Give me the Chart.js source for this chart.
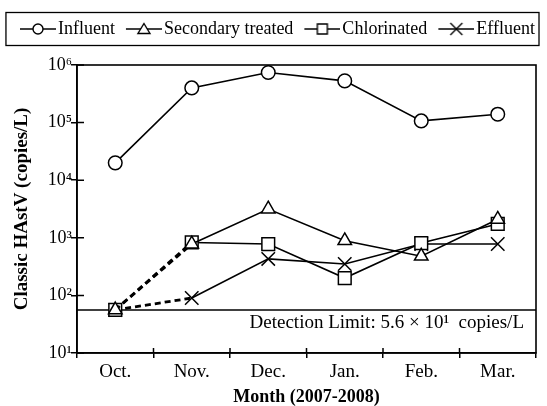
<!DOCTYPE html>
<html>
<head>
<meta charset="utf-8">
<script src="https://cdn.jsdelivr.net/npm/chart.js@4/dist/chart.umd.min.js"></script>
<style>
    html, body { margin: 0; padding: 0; background: #fff; }
</style>
</head>
<body>
<canvas id="chart" width="547" height="406"></canvas>
<script>
'use strict';

// данные
const months = ['Oct.', 'Nov.', 'Dec.', 'Jan.', 'Feb.', 'Mar.'];
const influent = [2.0e4, 4.0e5, 7.4e5, 5.3e5, 1.07e5, 1.4e5];
const secondaryTreated = [56, 780, 3160, 890, 480, 2100];
const chlorinated = [56, 830, 780, 200, 810, 1740];
const effluent = [56, 90, 430, 350, 780, 780];
const detectionLimit = 56;
const yTicks = [10, 100, 1000, 10000, 100000, 1000000];
const yTickLabels = ['10¹', '10²', '10³', '10⁴', '10⁵', '10⁶'];

const FONT = '"Liberation Serif", "Times New Roman", serif';

// значок легенды: линия с маркером посередине (сдвинут вправо к тексту)
function legendSymbol(style) {
    const c = document.createElement('canvas');
    c.width = 42;
    c.height = 16;
    const g = c.getContext('2d');
    const x0 = 6, x1 = 42, cx = 24, cy = 8;
    g.strokeStyle = '#000';
    g.fillStyle = '#fff';
    g.lineWidth = 1.4;
    g.beginPath();
    g.moveTo(x0, cy);
    g.lineTo(x1, cy);
    g.stroke();
    g.beginPath();
    if (style === 'circle') {
        g.arc(cx, cy, 5, 0, Math.PI * 2);
        g.fill();
        g.stroke();
    } else if (style === 'triangle') {
        g.moveTo(cx, cy - 5.5);
        g.lineTo(cx + 6, cy + 4.5);
        g.lineTo(cx - 6, cy + 4.5);
        g.closePath();
        g.fill();
        g.stroke();
    } else if (style === 'rect') {
        g.rect(cx - 5, cy - 5, 10, 10);
        g.fill();
        g.stroke();
    } else {
        g.moveTo(cx - 6, cy - 6);
        g.lineTo(cx + 6, cy + 6);
        g.moveTo(cx + 6, cy - 6);
        g.lineTo(cx - 6, cy + 6);
        g.stroke();
    }
    return c;
}

// пунктир только на отрезке Oct.–Nov.
const dashFirst = {
    borderDash: (ctx) => (ctx.p0DataIndex === 0 ? [6, 4] : undefined),
    borderWidth: (ctx) => (ctx.p0DataIndex === 0 ? 2.8 : 1.6),
};

function series(label, data, style, radius, dashed) {
    return {
        label: label,
        data: data,
        xAxisID: 'x',
        yAxisID: 'y',
        borderColor: '#000',
        borderWidth: 1.6,
        pointStyle: style,
        pointRadius: radius,
        pointBorderWidth: 1.5,
        pointBackgroundColor: '#fff',
        pointBorderColor: '#000',
        tension: 0,
        segment: dashed ? dashFirst : undefined,
        legendStyle: style,
    };
}

// рамка графика, внутренние засечки, предел обнаружения, рамка легенды
const decorPlugin = {
    id: 'decor',
    beforeDatasetsDraw(chart) {
        const { ctx, chartArea: a, scales } = chart;
        const y = scales.y.getPixelForValue(detectionLimit);
        ctx.save();
        ctx.strokeStyle = '#000';
        ctx.lineWidth = 1.5;
        ctx.beginPath();
        ctx.moveTo(a.left, y);
        ctx.lineTo(a.right, y);
        ctx.stroke();
        ctx.fillStyle = '#000';
        ctx.font = '19px ' + FONT;
        ctx.textAlign = 'right';
        ctx.textBaseline = 'middle';
        ctx.fillText('Detection Limit: 5.6 × 10¹  copies/L', a.right - 12, y + 13);
        ctx.restore();
    },
    afterDraw(chart) {
        const { ctx, chartArea: a, scales } = chart;
        ctx.save();
        ctx.strokeStyle = '#000';
        ctx.lineWidth = 1.6;
        ctx.strokeRect(a.left, a.top, a.right - a.left, a.bottom - a.top);
        ctx.lineWidth = 1.5;
        ctx.beginPath();
        // засечки внутрь по оси Y
        for (const v of yTicks) {
            const py = scales.y.getPixelForValue(v);
            ctx.moveTo(a.left, py);
            ctx.lineTo(a.left + 7, py);
        }
        // засечки внутрь по оси X (между месяцами)
        const half = (scales.x.getPixelForValue(1) - scales.x.getPixelForValue(0)) / 2;
        for (let i = 1; i < months.length; i++) {
            const px = scales.x.getPixelForValue(i) - half;
            ctx.moveTo(px, a.bottom);
            ctx.lineTo(px, a.bottom - 5);
        }
        ctx.stroke();
        // рамка легенды
        const boxes = chart.legend.legendHitBoxes;
        if (boxes && boxes.length) {
            let l = Infinity, r = -Infinity, t = Infinity, b = -Infinity;
            for (const h of boxes) {
                l = Math.min(l, h.left);
                r = Math.max(r, h.left + h.width);
                t = Math.min(t, h.top);
                b = Math.max(b, h.top + h.height);
            }
            const cy = (t + b) / 2;
            ctx.lineWidth = 1.3;
            ctx.strokeRect(l - 15, cy - 16.5, r - l + 19, 33);
        }
        ctx.restore();
    },
};

const ctx = document.getElementById('chart').getContext('2d');
const chart = new Chart(ctx, {
    type: 'line',
    data: {
        labels: months,
        datasets: [
            series('Influent', influent, 'circle', 6.8, false),
            series('Secondary treated', secondaryTreated, 'triangle', 7.8, true),
            series('Chlorinated', chlorinated, 'rect', 9, true),
            series('Effluent', effluent, 'crossRot', 9.5, true),
        ],
    },
    options: {
        responsive: false,
        animation: false,
        devicePixelRatio: 1,
        layout: { padding: { top: 8, right: 0, bottom: 0, left: 0 } },
        plugins: {
            tooltip: { enabled: false },
            legend: {
                position: 'top',
                align: 'end',
                labels: {
                    color: '#000',
                    font: { family: FONT, size: 18 },
                    usePointStyle: true,
                    pointStyleWidth: 28,
                    padding: 12,
                    generateLabels: (ch) =>
                        ch.data.datasets.map((ds, i) => ({
                            text: ds.label,
                            pointStyle: legendSymbol(ds.legendStyle),
                            fontColor: '#000',
                            strokeStyle: '#000',
                            fillStyle: '#fff',
                            lineWidth: 0,
                            datasetIndex: i,
                            hidden: false,
                        })),
                },
            },
        },
        scales: {
            x: {
                type: 'category',
                offset: true,
                border: { display: true, color: '#000', width: 1.6 },
                grid: {
                    offset: true,
                    drawOnChartArea: false,
                    drawTicks: true,
                    tickLength: 5,
                    color: '#000',
                    lineWidth: 1.5,
                },
                ticks: {
                    color: '#000',
                    font: { family: FONT, size: 19 },
                    padding: 3,
                    maxRotation: 0,
                },
                title: {
                    display: true,
                    text: 'Month (2007-2008)',
                    color: '#000',
                    font: { family: FONT, size: 18, weight: 'bold' },
                    padding: { top: 0, bottom: -2 },
                },
                afterFit: (s) => { s.height = 53; },
            },
            // пустые оси только для отступов сверху и справа
            xTop: {
                type: 'category',
                position: 'top',
                grid: { display: false, drawTicks: false },
                border: { display: false },
                ticks: { display: false },
                afterFit: (s) => { s.height = 17; },
            },
            yRight: {
                type: 'linear',
                position: 'right',
                grid: { display: false, drawTicks: false },
                border: { display: false },
                ticks: { display: false },
                afterFit: (s) => { s.width = 6; },
            },
            y: {
                type: 'logarithmic',
                min: 10,
                max: 1000000,
                border: { display: true, color: '#000', width: 1.6 },
                grid: {
                    drawOnChartArea: false,
                    drawTicks: true,
                    tickLength: 6,
                    color: '#000',
                    lineWidth: 1.5,
                },
                afterBuildTicks: (s) => {
                    s.ticks = yTicks.map((v) => ({ value: v }));
                },
                ticks: {
                    color: '#000',
                    font: { family: FONT, size: 18 },
                    padding: -1,
                    callback: (v) => {
                        const i = yTicks.indexOf(v);
                        return i >= 0 ? yTickLabels[i] : '';
                    },
                },
                title: {
                    display: true,
                    text: 'Classic HAstV (copies/L)',
                    color: '#000',
                    font: { family: FONT, size: 19, weight: 'bold' },
                    padding: { top: 11, bottom: 0 },
                },
                afterFit: (s) => { s.width = 77; },
            },
        },
    },
    plugins: [decorPlugin],
});
</script>
</body>
</html>
